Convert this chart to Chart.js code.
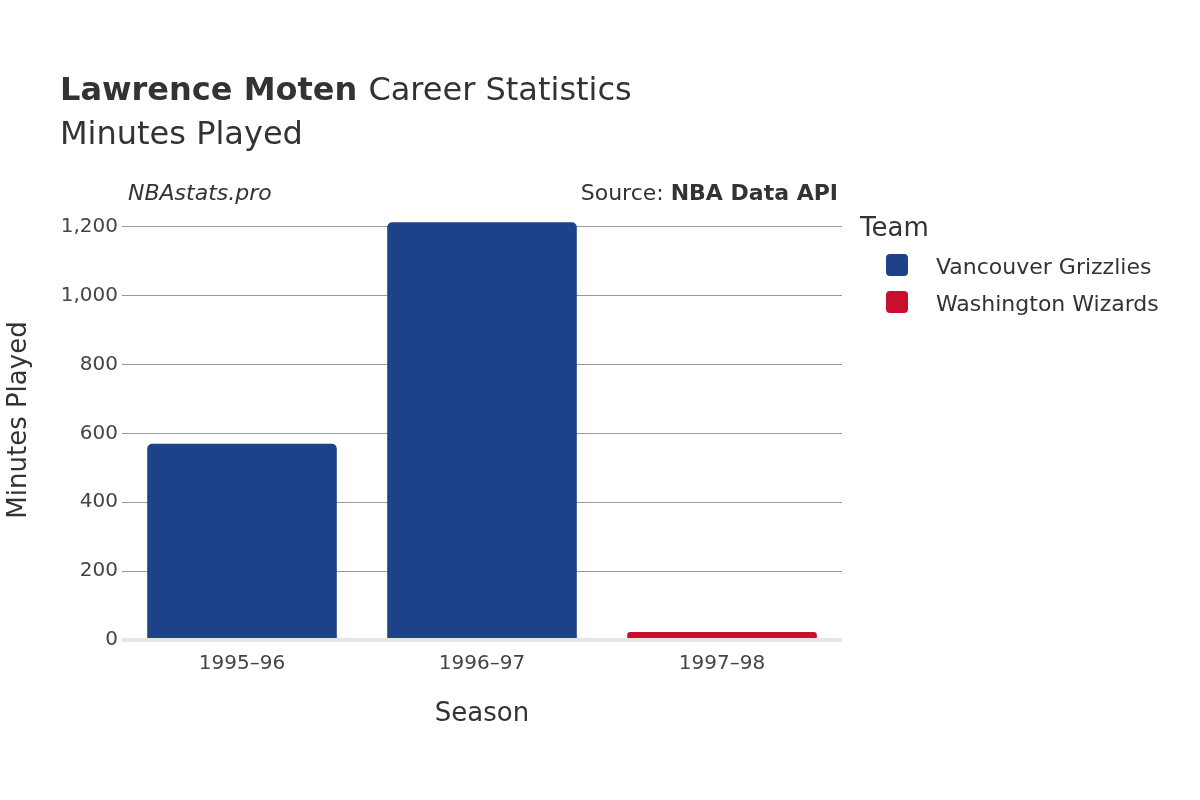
<!DOCTYPE html>
<html><head><meta charset="utf-8">
<script src="https://cdn.jsdelivr.net/npm/chart.js@4"></script>
<style>html,body{margin:0;background:#fff}</style></head>
<body><div style="width:1200px;height:800px"><canvas id="c" width="1200" height="800"></canvas></div>
<script>
const seasons = ["1995–96","1996–97","1997–98"];
const grizzlies = [570, 1213, null];
const wizards = [null, null, 23];
const yTicks = [0,200,400,600,800,1000,1200];
const F = "DejaVu Sans";
const textPlugin = {
  id:'txt',
  afterDraw(ch){
    const c = ch.ctx; c.save();
    c.fillStyle='#333'; c.textBaseline='alphabetic'; c.textAlign='left';
    c.font=`bold 32px ${F}`; c.fillText('Lawrence Moten',60,100);
    const w=c.measureText('Lawrence Moten ').width;
    c.font=`32px ${F}`; c.fillText('Career Statistics',60+w,100);
    c.fillText('Minutes Played',60,144);
    c.font=`italic 22px ${F}`; c.fillText('NBAstats.pro',128,200);
    c.textAlign='right'; c.font=`bold 22px ${F}`; c.fillText('NBA Data API',838,200);
    const bw=c.measureText('NBA Data API').width;
    c.font=`22px ${F}`; c.fillText('Source: ',838-bw,200);
    c.textAlign='left'; c.font=`26px ${F}`; c.fillText('Team',860,236);
    const items=[['Vancouver Grizzlies','#1d428a'],['Washington Wizards','#c8102e']];
    items.forEach((it,i)=>{
      const y=254+i*37;
      c.fillStyle=it[1]; c.beginPath(); c.roundRect(886,y,22,22,4); c.fill();
      c.fillStyle='#333'; c.font=`22px ${F}`; c.fillText(it[0],936,y+20);
    });
    c.textAlign='center'; c.font=`26px ${F}`; c.fillText('Season',482,721);
    c.translate(26,420); c.rotate(-Math.PI/2); c.fillText('Minutes Played',0,0);
    c.restore();
  }
};
new Chart(document.getElementById('c'),{
  type:'bar',
  data:{labels:seasons,datasets:[
    {label:'Vancouver Grizzlies',data:grizzlies,backgroundColor:'#1d428a',borderRadius:5,borderSkipped:'bottom'},
    {label:'Washington Wizards',data:wizards,backgroundColor:'#c8102e',borderRadius:5,borderSkipped:'bottom'}
  ]},
  options:{responsive:false,animation:false,
    layout:{padding:{left:0,right:358,top:213,bottom:0}},
    plugins:{legend:{display:false},tooltip:{enabled:false}},
    datasets:{bar:{barPercentage:0.79,categoryPercentage:1}},
    scales:{
      x:{stacked:true,grid:{display:false},border:{display:false},
        ticks:{color:'#444',font:{family:F,size:20},padding:4},
        afterFit(s){s.height=160;}},
      y:{stacked:true,min:0,max:1240,border:{display:false},
        afterBuildTicks(s){s.ticks=yTicks.map(v=>({value:v}));},
        grid:{drawTicks:false,color:x=>x.tick&&x.tick.value===0?'#e6e6e6':'#999',lineWidth:x=>x.tick&&x.tick.value===0?4:1},
        ticks:{color:'#444',font:{family:F,size:20},padding:4},
        afterFit(s){s.width=122;}}
    }
  },
  plugins:[textPlugin]
});
</script></body></html>
